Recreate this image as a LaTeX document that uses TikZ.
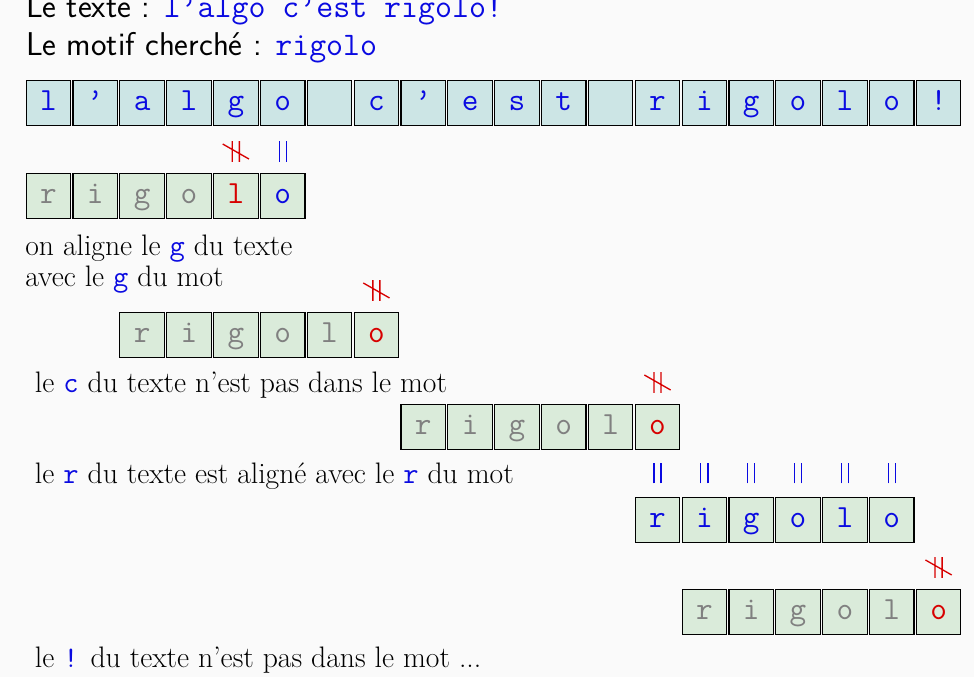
\documentclass[tikz,border=0pt]{standalone}
\usepackage{fontspec}
\definecolor{bgc}{RGB}{250,250,250}
\definecolor{txtfill}{RGB}{204,229,229}
\definecolor{patfill}{RGB}{218,235,218}
\definecolor{myred}{RGB}{215,0,0}
\definecolor{myblue}{RGB}{10,10,225}
\tikzset{
 cell/.style={draw=black, line width=0.7pt, minimum size=0.95cm, inner sep=0pt,
   text height=0.4cm, text depth=0.1cm, font=\fontsize{19.6}{23}\selectfont\ttfamily},
 txtcell/.style={cell, fill=txtfill, text=myblue},
 patcell/.style={cell, fill=patfill},
 lbl/.style={inner sep=0pt, anchor=base west, font=\fontsize{18}{20}\selectfont},
 ttl/.style={inner sep=0pt, anchor=base west, font=\fontsize{20}{24}\selectfont\sffamily},
 neqmark/.pic={\draw[myred, line width=0.8pt] (-0.075,-0.22)--(-0.075,0.22) (0.075,-0.22)--(0.075,0.22) (-0.28,0.16)--(0.28,-0.16);},
 eqmark/.pic={\draw[myblue, line width=0.8pt] (-0.075,-0.22)--(-0.075,0.22) (0.075,-0.22)--(0.075,0.22);},
}
\begin{document}
\begin{tikzpicture}
\fill[bgc] (0,0) rectangle (20.79,-14.45);
\useasboundingbox (0,0) rectangle (20.79,-14.45);
% titles
\node[ttl] (title1) at (0.55,-0.384) {Le texte : \textcolor{myblue}{\ttfamily l’algo c’est rigolo!}};
\node[ttl] (title2) at (0.55,-1.174) {Le motif cherché : \textcolor{myblue}{\ttfamily rigolo}};
% text row
\foreach \ch [count=\i from 0] in {l,’,a,l,g,o,{},c,’,e,s,t,{},r,i,g,o,l,o,!}
  \node[txtcell] (t\i) at (1.034+\i,-2.199) {\ch};
% pattern rows
\foreach \ch/\co [count=\k from 0] in {r/gray,i/gray,g/gray,o/gray,l/myred,o/myblue}
  \node[patcell,text=\co] (a\k) at (1.034+\k,-4.184) {\ch};
\foreach \ch/\co [count=\k from 0] in {r/gray,i/gray,g/gray,o/gray,l/gray,o/myred}
  \node[patcell,text=\co] (b\k) at (3.034+\k,-7.150) {\ch};
\foreach \ch/\co [count=\k from 0] in {r/gray,i/gray,g/gray,o/gray,l/gray,o/myred}
  \node[patcell,text=\co] (c\k) at (9.034+\k,-9.114) {\ch};
\foreach \ch/\co [count=\k from 0] in {r/myblue,i/myblue,g/myblue,o/myblue,l/myblue,o/myblue}
  \node[patcell,text=\co] (d\k) at (14.034+\k,-11.099) {\ch};
\foreach \ch/\co [count=\k from 0] in {r/gray,i/gray,g/gray,o/gray,l/gray,o/myred}
  \node[patcell,text=\co] (e\k) at (15.034+\k,-13.063) {\ch};
% marks
\pic at ([yshift=0.95cm]a4.center) {neqmark};
\pic at ([yshift=0.95cm]a5.center) {eqmark};
\pic at ([yshift=0.95cm]b5.center) {neqmark};
\pic at ([yshift=0.95cm]c5.center) {neqmark};
\foreach \k in {0,...,5} \pic at ([yshift=1.0cm]d\k.center) {eqmark};
\pic at ([yshift=0.95cm]e5.center) {neqmark};
% labels
\node[lbl] (l1a) at (0.534,-5.464) {on aligne le \textcolor{myblue}{\texttt{g}} du texte};
\node[lbl] (l1b) at (0.534,-6.12) {avec le \textcolor{myblue}{\texttt{g}} du mot};
\node[lbl] (l2) at (0.74,-8.37) {le \textcolor{myblue}{\texttt{c}} du texte n’est pas dans le mot};
\node[lbl] (l3) at (0.74,-10.33) {le \textcolor{myblue}{\texttt{r}} du texte est aligné avec le \textcolor{myblue}{\texttt{r}} du mot};
\node[lbl] (l4) at (0.74,-14.237) {le \textcolor{myblue}{\texttt{!}} du texte n’est pas dans le mot ...};
\end{tikzpicture}
\end{document}
